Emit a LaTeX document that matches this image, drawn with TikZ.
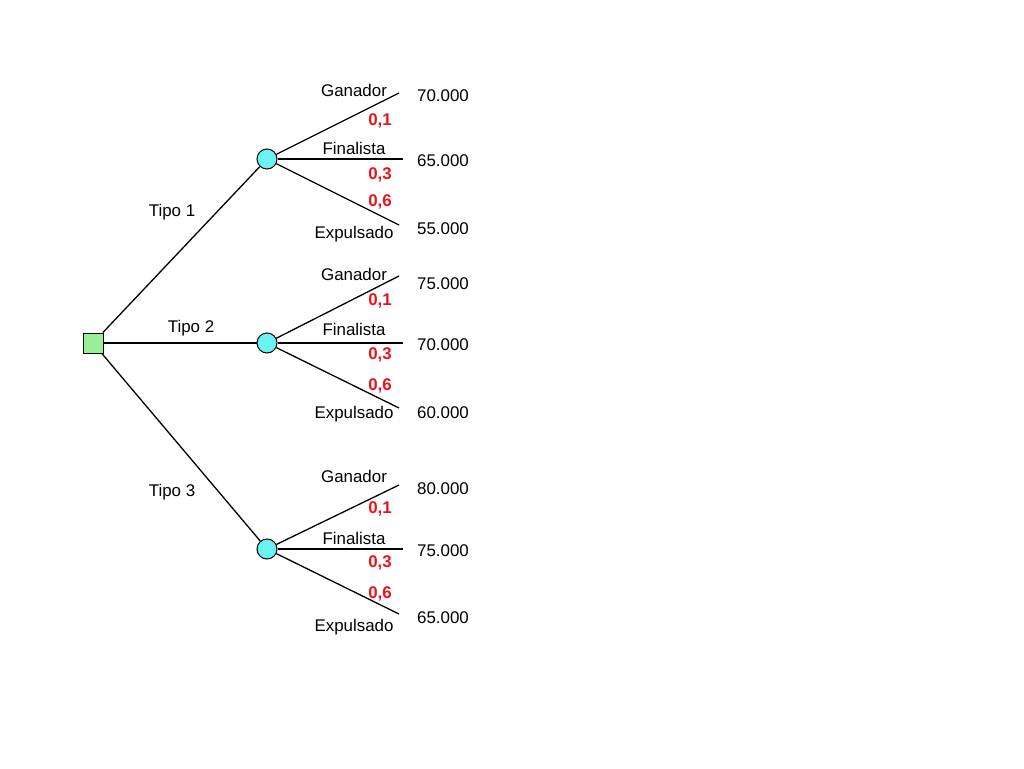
\documentclass[tikz,border=0pt]{standalone}
\usepackage{fontspec}
\setmainfont{Liberation Sans}
\usepackage{tikz}
\usetikzlibrary{positioning}
\definecolor{decgreen}{HTML}{99EE99}
\definecolor{chancecyan}{HTML}{6CF2F2}
\definecolor{probred}{HTML}{E8141A}
\tikzstyle{decision}=[draw,fill=decgreen,rectangle,minimum size=20pt,inner sep=0pt,line width=1pt]
\tikzstyle{chance}=[draw,fill=chancecyan,circle,minimum size=20pt,inner sep=0pt,line width=1pt]

\begin{document}
\begin{tikzpicture}[x=1pt,y=-1pt,line width=1.3pt,
  lbl/.style={font=\fontsize{16.9}{20}\selectfont,inner sep=0pt,yshift=-1.5pt},
  prob/.style={lbl,text=probred,font=\fontsize{16.9}{20}\selectfont\bfseries}]
\useasboundingbox (0,0) rectangle (1024,768);
\node [decision] (d) at (93,343) {};
% chance nodes
\node [chance] (c1) at (267,159) {};
\node [chance] (c2) at (267,343) {};
\node [chance] (c3) at (267,549) {};
\draw (d) -- (c1);
\draw (d) -- (c2);
\draw (d) -- (c3);
\node [lbl] (t1) at (172,211) {Tipo 1};
\node [lbl] (t2) at (191,327) {Tipo 2};
\node [lbl] (t3) at (172,491) {Tipo 3};

% Tipo 1
\coordinate (g1) at (399,93);
\coordinate (f1) at (403,159);
\coordinate (e1) at (399,225);
\draw (c1) -- (g1);
\draw (c1) -- (f1);
\draw (c1) -- (e1);
\node [lbl] (lg1) at (354,89) {Ganador};
\node [lbl] (lf1) at (354,147) {Finalista};
\node [lbl] (le1) at (354,233) {Expulsado};
\node [prob] (pg1) at (380,119) {0,1};
\node [prob] (pf1) at (380,173) {0,3};
\node [prob] (pe1) at (380,200) {0,6};
\node [lbl] (vg1) at (443,94) {70.000};
\node [lbl] (vf1) at (443,159) {65.000};
\node [lbl] (ve1) at (443,227) {55.000};

% Tipo 2
\coordinate (g2) at (399,276);
\coordinate (f2) at (403,343);
\coordinate (e2) at (399,408);
\draw (c2) -- (g2);
\draw (c2) -- (f2);
\draw (c2) -- (e2);
\node [lbl] (lg2) at (354,273) {Ganador};
\node [lbl] (lf2) at (354,328) {Finalista};
\node [lbl] (le2) at (354,413) {Expulsado};
\node [prob] (pg2) at (380,299) {0,1};
\node [prob] (pf2) at (380,353) {0,3};
\node [prob] (pe2) at (380,384) {0,6};
\node [lbl] (vg2) at (443,282) {75.000};
\node [lbl] (vf2) at (443,343) {70.000};
\node [lbl] (ve2) at (443,411) {60.000};

% Tipo 3
\coordinate (g3) at (399,485);
\coordinate (f3) at (403,549);
\coordinate (e3) at (399,614);
\draw (c3) -- (g3);
\draw (c3) -- (f3);
\draw (c3) -- (e3);
\node [lbl] (lg3) at (354,475) {Ganador};
\node [lbl] (lf3) at (354,537) {Finalista};
\node [lbl] (le3) at (354,626) {Expulsado};
\node [prob] (pg3) at (380,507) {0,1};
\node [prob] (pf3) at (380,561) {0,3};
\node [prob] (pe3) at (380,592) {0,6};
\node [lbl] (vg3) at (443,487) {80.000};
\node [lbl] (vf3) at (443,549) {75.000};
\node [lbl] (ve3) at (443,616) {65.000};
\end{tikzpicture}
\end{document}
